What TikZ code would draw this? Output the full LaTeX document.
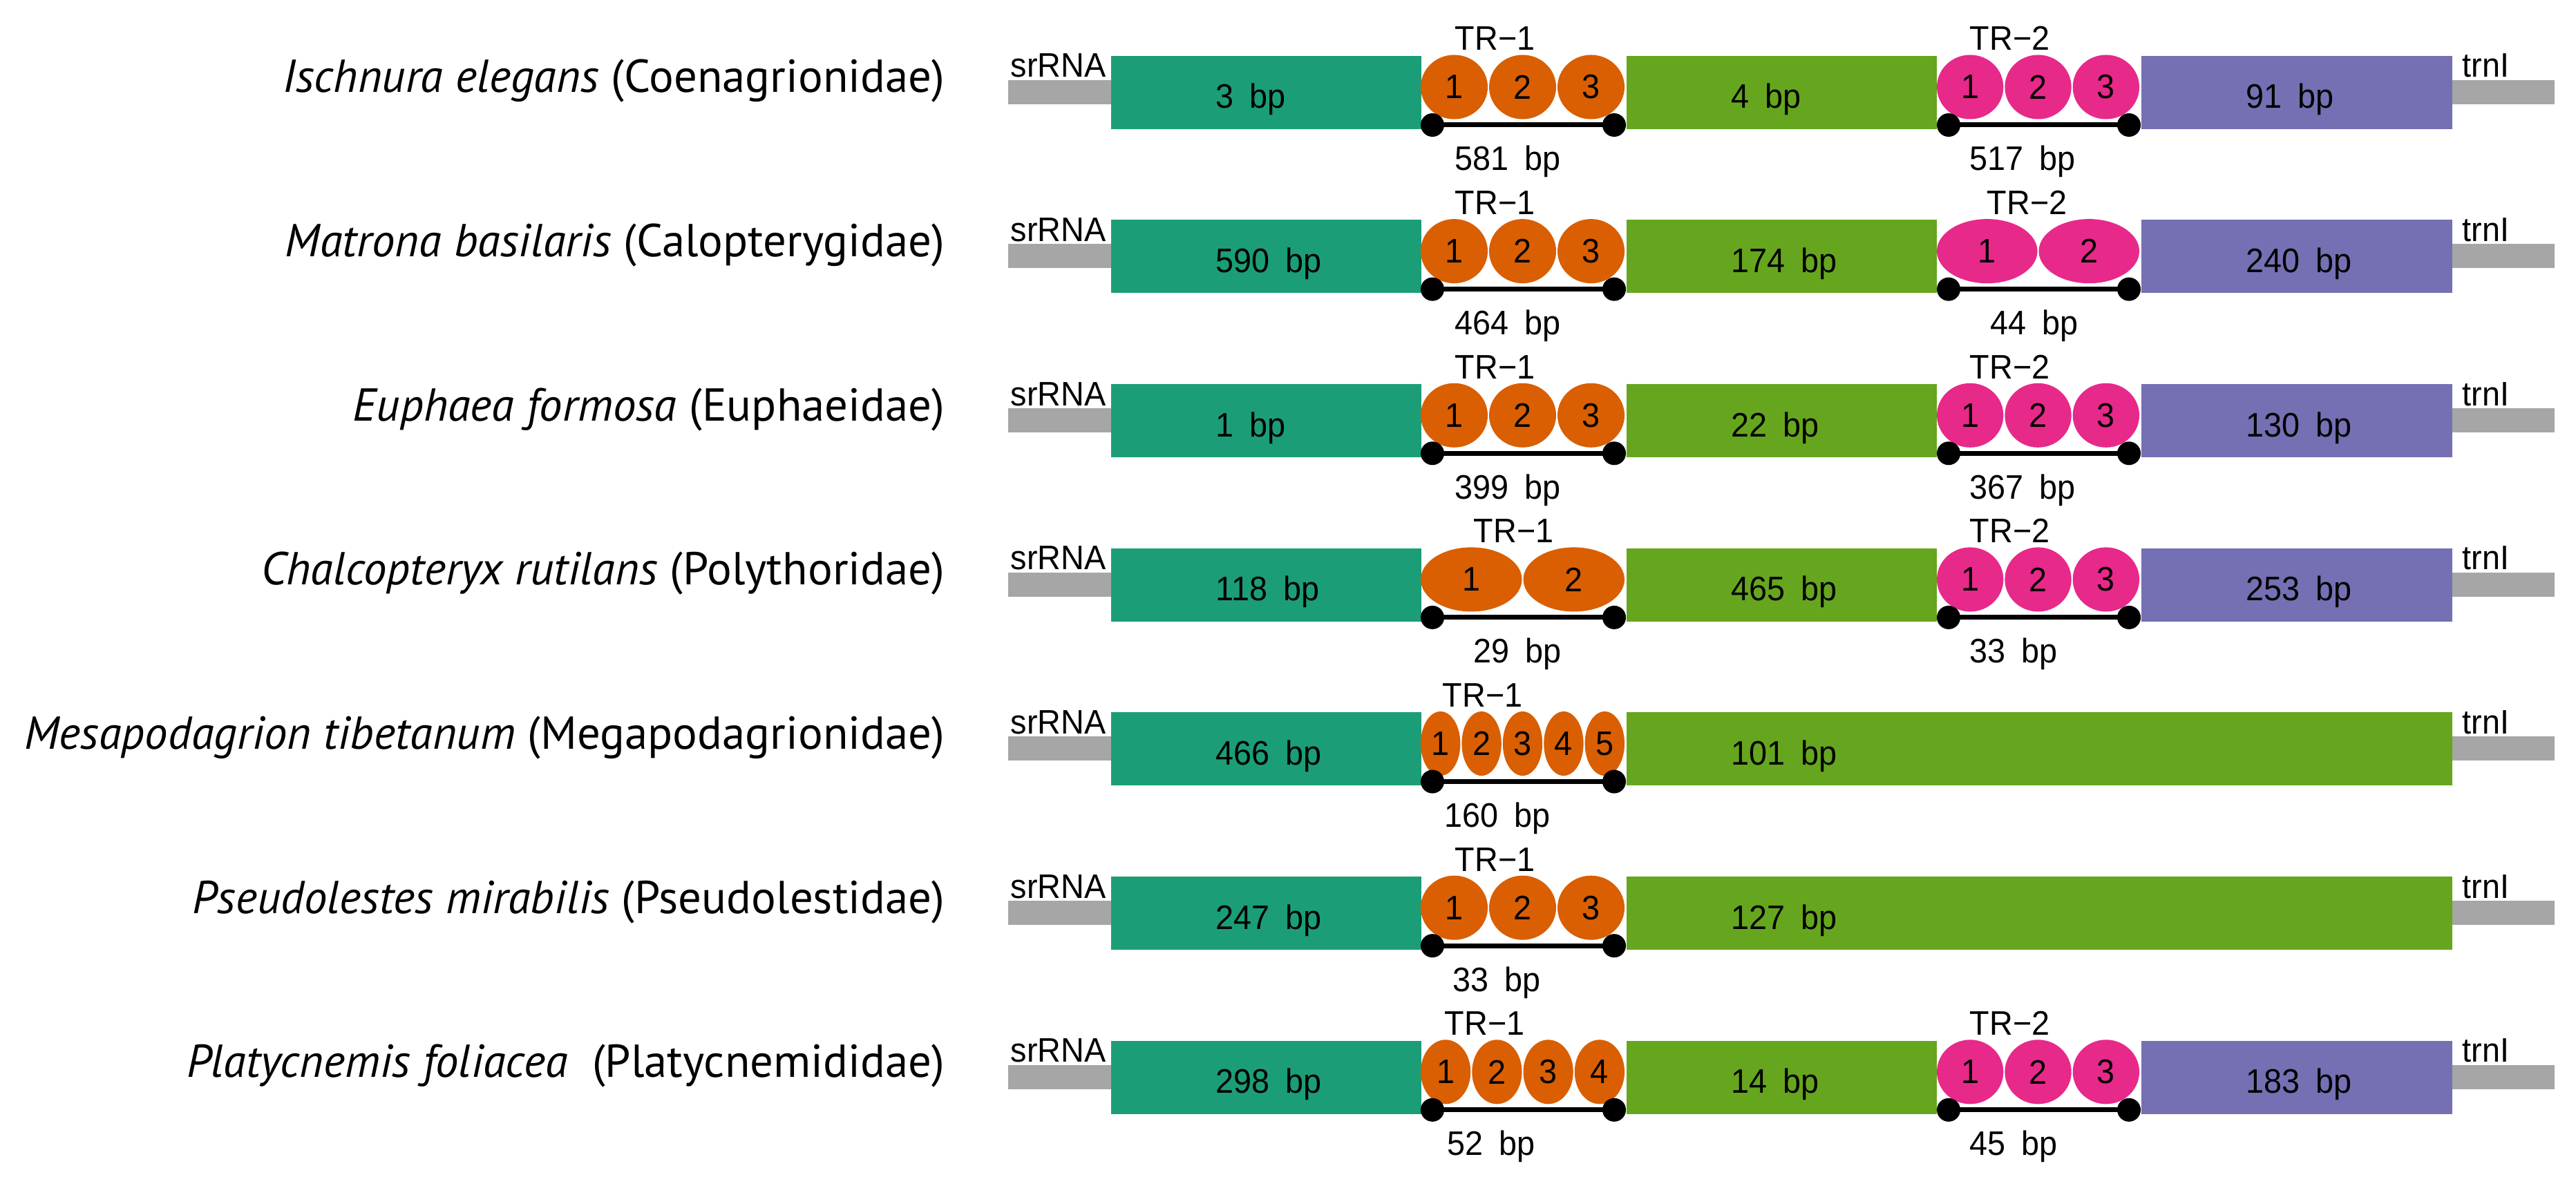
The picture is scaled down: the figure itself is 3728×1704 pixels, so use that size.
\documentclass[tikz,border=0pt]{standalone}
\usepackage{fontspec}
\usetikzlibrary{shapes.geometric}
\newfontfamily\lblfam{Liberation Sans}[FakeStretch=0.95]
\newfontfamily\spfam{PT Sans}
\newcommand\lblfont{\lblfam\fontsize{14}{14}\selectfont}
\newcommand\spfont{\spfam\fontsize{19}{19}\selectfont}
\newcommand\bp{\hspace{0.47em}bp}
\definecolor{tealc}{HTML}{1B9E77}
\definecolor{orangec}{HTML}{D95F02}
\definecolor{purplec}{HTML}{7570B3}
\definecolor{pinkc}{HTML}{E7298A}
\definecolor{greenc}{HTML}{66A61E}
\definecolor{grayc}{HTML}{A6A6A6}
\tikzset{
  txt/.style={font=\lblfont, inner sep=0pt},
  sptxt/.style={font=\spfont, inner sep=0pt, anchor=base east},
  blk/.style={rectangle, draw=none, inner sep=0pt, minimum height=1.06cm},
  rep/.style={ellipse, draw=none, inner sep=0pt, minimum height=0.93cm, font=\lblfont},
  dotn/.style={circle, fill=black, inner sep=0pt, minimum size=0.34cm},
  tline/.style={line width=0.07cm, black},
  gbar/.style={rectangle, fill=grayc, draw=none, inner sep=0pt, minimum height=0.35cm, anchor=north west}
}
% box: name, color, x1, x2, label
\newcommand\blk[5]{%
  \pgfmathsetmacro\blkw{(#4-#3)*0.01}%
  \node[blk, fill=#2, minimum width=\blkw cm, anchor=north west] (#1) at (#3,80) {};
  \node[txt, anchor=base west] (#1l) at (#3+152,157) {#5};
}
% tandem repeat group: name, color, x1, x2, count, label, label x, bottom label, bottom x
\newcommand\trgroup[9]{%
  \pgfmathsetmacro\trw{(#4-#3)/#5}%
  \pgfmathsetmacro\trew{(\trw-2)*0.01}%
  \foreach \k in {1,...,#5}{%
    \node[rep, fill=#2, minimum width=\trew cm] (#1e\k) at ({#3+(\k-0.5)*\trw},126) {\k};
  }
  \node[dotn] (#1a) at (#3+18,181) {};
  \node[dotn] (#1b) at (#4-16,181) {};
  \draw[tline] (#1a.center) -- (#1b.center);
  \node[txt, anchor=base west] (#1l) at (#7,73) {#6};
  \node[txt, anchor=base west] (#1n) at (#9,247) {#8};
}
% row frame: index, species label
\newcommand\rowframe[1]{%
  \node[gbar, minimum width=1.49cm] (gl) at (1458,115) {};
  \node[gbar, minimum width=1.48cm] (gr) at (3548,115) {};
  \node[txt, anchor=base west] (src) at (1462,112) {srRNA};
  \node[txt, anchor=base west] (trn) at (3563,112) {trnI};
  \node[sptxt] (sp) at (1368,134) {#1};
}
\begin{document}
\begin{tikzpicture}[x=0.01cm, y=-0.01cm]
\useasboundingbox (0,0) rectangle (3728,1704);

% Row 1
\begin{scope}[yshift=0cm, name prefix=r0-]
  \rowframe{\textit{Ischnura elegans} (Coenagrionidae)}
  \blk{b1}{tealc}{1607}{2056}{3\bp}
  \trgroup{t1}{orangec}{2055}{2352}{3}{TR−1}{2105}{581\bp}{2105}
  \blk{b2}{greenc}{2353}{2802}{4\bp}
  \trgroup{t2}{pinkc}{2802}{3097}{3}{TR−2}{2850}{517\bp}{2850}
  \blk{b3}{purplec}{3098}{3548}{91\bp}
\end{scope}

% Row 2
\begin{scope}[yshift=-2.375cm, name prefix=r1-]
  \rowframe{\textit{Matrona basilaris} (Calopterygidae)}
  \blk{b1}{tealc}{1607}{2056}{590\bp}
  \trgroup{t1}{orangec}{2055}{2352}{3}{TR−1}{2105}{464\bp}{2105}
  \blk{b2}{greenc}{2353}{2802}{174\bp}
  \trgroup{t2}{pinkc}{2802}{3097}{2}{TR−2}{2875}{44\bp}{2880}
  \blk{b3}{purplec}{3098}{3548}{240\bp}
\end{scope}

% Row 3
\begin{scope}[yshift=-4.75cm, name prefix=r2-]
  \rowframe{\textit{Euphaea formosa} (Euphaeidae)}
  \blk{b1}{tealc}{1607}{2056}{1\bp}
  \trgroup{t1}{orangec}{2055}{2352}{3}{TR−1}{2105}{399\bp}{2105}
  \blk{b2}{greenc}{2353}{2802}{22\bp}
  \trgroup{t2}{pinkc}{2802}{3097}{3}{TR−2}{2850}{367\bp}{2850}
  \blk{b3}{purplec}{3098}{3548}{130\bp}
\end{scope}

% Row 4
\begin{scope}[yshift=-7.125cm, name prefix=r3-]
  \rowframe{\textit{Chalcopteryx rutilans} (Polythoridae)}
  \blk{b1}{tealc}{1607}{2056}{118\bp}
  \trgroup{t1}{orangec}{2055}{2352}{2}{TR−1}{2132}{29\bp}{2132}
  \blk{b2}{greenc}{2353}{2802}{465\bp}
  \trgroup{t2}{pinkc}{2802}{3097}{3}{TR−2}{2850}{33\bp}{2850}
  \blk{b3}{purplec}{3098}{3548}{253\bp}
\end{scope}

% Row 5
\begin{scope}[yshift=-9.5cm, name prefix=r4-]
  \rowframe{\textit{Mesapodagrion tibetanum} (Megapodagrionidae)}
  \blk{b1}{tealc}{1607}{2056}{466\bp}
  \trgroup{t1}{orangec}{2055}{2352}{5}{TR−1}{2087}{160\bp}{2090}
  \blk{b2}{greenc}{2353}{3548}{101\bp}
\end{scope}

% Row 6
\begin{scope}[yshift=-11.875cm, name prefix=r5-]
  \rowframe{\textit{Pseudolestes mirabilis} (Pseudolestidae)}
  \blk{b1}{tealc}{1607}{2056}{247\bp}
  \trgroup{t1}{orangec}{2055}{2352}{3}{TR−1}{2105}{33\bp}{2102}
  \blk{b2}{greenc}{2353}{3548}{127\bp}
\end{scope}

% Row 7
\begin{scope}[yshift=-14.25cm, name prefix=r6-]
  \rowframe{\textit{Platycnemis foliacea}\ \ (Platycnemididae)}
  \blk{b1}{tealc}{1607}{2056}{298\bp}
  \trgroup{t1}{orangec}{2055}{2352}{4}{TR−1}{2090}{52\bp}{2094}
  \blk{b2}{greenc}{2353}{2802}{14\bp}
  \trgroup{t2}{pinkc}{2802}{3097}{3}{TR−2}{2850}{45\bp}{2850}
  \blk{b3}{purplec}{3098}{3548}{183\bp}
\end{scope}
\end{tikzpicture}
\end{document}
